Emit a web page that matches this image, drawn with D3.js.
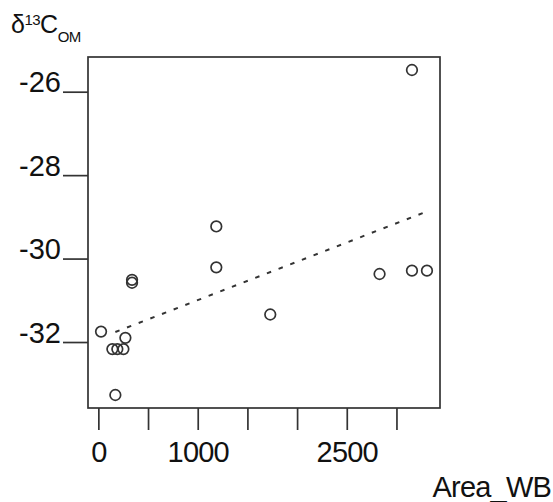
<!DOCTYPE html>
<html><head><meta charset="utf-8">
<script src="https://cdn.jsdelivr.net/npm/d3@7"></script>
<style>body{margin:0;background:#fff}svg{display:block}text{font-family:"Liberation Sans",Arial,sans-serif;fill:#111}</style>
</head><body>
<svg id="c" width="553" height="502"></svg>
<script>
const areaWB = [27, 141, 171, 191, 252, 272, 339, 339, 1187, 1187, 1730, 2830, 3156, 3156, 3307];
const d13C = [-31.75, -32.17, -33.27, -32.17, -32.17, -31.90, -30.51, -30.58, -29.23, -30.21, -31.34, -30.37, -25.48, -30.29, -30.29];
const trendX = [171, 3330];
const trendY = [-31.76, -28.85];
const xTicks = [0, 500, 1000, 1500, 2000, 2500, 3000];
const xTickLabels = ["0", "", "1000", "", "", "2500", ""];
const yTicks = [-26, -28, -30, -32];
const yTickLabels = ["-26", "-28", "-30", "-32"];

const svg = d3.select("#c");
const L = 88, R = 440, T = 57, B = 408;
const pad = (e) => { const d = e[1] - e[0]; return [e[0] - 0.04 * d, e[1] + 0.04 * d]; };
const x = d3.scaleLinear().domain(pad(d3.extent(areaWB))).range([L, R]);
const y = d3.scaleLinear().domain(pad(d3.extent(d13C))).range([B, T]);
const ink = "#333";
const ff = '"Liberation Sans",Arial,sans-serif';

// box
svg.append("rect").attr("x", L).attr("y", T).attr("width", R - L).attr("height", B - T)
  .attr("fill", "none").attr("stroke", ink).attr("stroke-width", 1.7);

// x axis
const xa = svg.append("g").attr("transform", `translate(0,${B})`)
  .call(d3.axisBottom(x).tickValues(xTicks).tickSize(22).tickFormat((d, i) => xTickLabels[i]));
xa.select(".domain").remove();
xa.selectAll(".tick line").attr("stroke", ink).attr("stroke-width", 1.7);
xa.selectAll(".tick text").attr("font-size", 29).attr("y", 33).attr("dy", "0.71em")
  .style("font-family", ff).attr("fill", "#111").attr("letter-spacing", -0.8);

// y axis
const ya = svg.append("g").attr("transform", `translate(${L},0)`)
  .call(d3.axisLeft(y).tickValues(yTicks).tickSize(25).tickFormat((d, i) => yTickLabels[i]));
ya.select(".domain").remove();
ya.selectAll(".tick line").attr("stroke", ink).attr("stroke-width", 1.7);
ya.selectAll(".tick text").attr("font-size", 29).attr("x", -27).attr("dy", "0").attr("y", 0)
  .style("font-family", ff).attr("fill", "#111");

// trend line
svg.append("line")
  .attr("x1", x(trendX[0])).attr("y1", y(trendY[0]))
  .attr("x2", x(trendX[1])).attr("y2", y(trendY[1]))
  .attr("stroke", ink).attr("stroke-width", 2).attr("stroke-dasharray", "4.5,8");

// points
svg.append("g").selectAll("circle").data(areaWB).join("circle")
  .attr("cx", d => x(d)).attr("cy", (d, i) => y(d13C[i])).attr("r", 5.3)
  .attr("fill", "none").attr("stroke", ink).attr("stroke-width", 1.7);

// y label
const yl = svg.append("text").attr("x", 11).attr("y", 33).attr("font-size", 25).attr("letter-spacing", -0.5);
yl.append("tspan").text("δ");
yl.append("tspan").attr("font-size", 15).attr("dy", -8).text("13");
yl.append("tspan").attr("dy", 8).text("C");
yl.append("tspan").attr("font-size", 15).attr("dy", 9).text("OM");

// x label
svg.append("text").attr("x", 551).attr("y", 497).attr("text-anchor", "end")
  .attr("font-size", 29).attr("letter-spacing", -0.8).text("Area_WB");
</script>
</body></html>
